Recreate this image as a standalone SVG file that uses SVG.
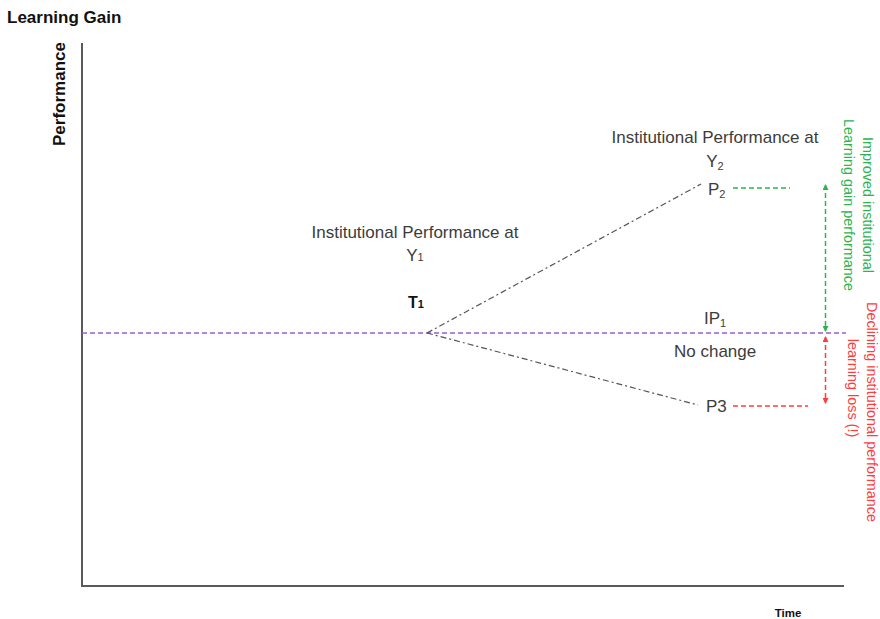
<svg xmlns="http://www.w3.org/2000/svg" width="880" height="619" viewBox="0 0 880 619">
  <defs>
    <style>
      text { font-family: "Liberation Sans", Arial, sans-serif; fill: #3c3c3c; }
      .lbl { font-size: 17px; }
      .sub { font-size: 11px; }
      .bold { font-weight: bold; fill: #111; }
      .axis { stroke: #5a5a5a; stroke-width: 2; fill: none; }
      .trend { stroke: #555; stroke-width: 1.2; stroke-dasharray: 6 3 2 3; fill: none; }
      .base { stroke: #9a5fd0; stroke-width: 1.5; stroke-dasharray: 5 3; fill: none; }
      .gain { stroke: #2fb34f; stroke-width: 1.5; stroke-dasharray: 5 3; fill: none; }
      .loss { stroke: #ff3d3d; stroke-width: 1.5; stroke-dasharray: 5 3; fill: none; }
      .green { fill: #2fb34f; font-size: 14.4px; }
      .red { fill: #ff3d3d; font-size: 14.4px; }
    </style>
    <marker id="arrGreen" viewBox="0 0 6 6" refX="5" refY="3" markerWidth="6" markerHeight="6" orient="auto-start-reverse" markerUnits="userSpaceOnUse">
      <path d="M0,0 L6,3 L0,6 z" fill="#2fb34f"/>
    </marker>
    <marker id="arrRed" viewBox="0 0 6 6" refX="5" refY="3" markerWidth="6" markerHeight="6" orient="auto-start-reverse" markerUnits="userSpaceOnUse">
      <path d="M0,0 L6,3 L0,6 z" fill="#ff3d3d"/>
    </marker>
  </defs>
  <rect width="880" height="619" fill="#fff"/>

  <!-- title and axes -->
  <g id="title">
    <text x="7" y="23" class="bold" font-size="17">Learning Gain</text>
  </g>
  <g id="axes">
    <path class="axis" d="M82,43 V586 H844"/>
    <text class="bold" font-size="17" transform="translate(64.5,94) rotate(-90)" text-anchor="middle">Performance</text>
    <text x="788" y="617" class="bold" font-size="11.5" text-anchor="middle">Time</text>
  </g>

  <!-- connectors -->
  <g id="connectors">
    <line class="base" x1="82" y1="333" x2="846" y2="333"/>
    <line class="trend" x1="427" y1="333" x2="701" y2="184"/>
    <line class="trend" x1="427" y1="333" x2="698" y2="405"/>
    <line class="gain" x1="733" y1="188" x2="790" y2="188"/>
    <line class="loss" x1="733" y1="406" x2="808" y2="406"/>
    <line class="gain" x1="825.5" y1="185" x2="825.5" y2="331" marker-start="url(#arrGreen)" marker-end="url(#arrGreen)"/>
    <line class="loss" x1="825.5" y1="337" x2="825.5" y2="403" marker-start="url(#arrRed)" marker-end="url(#arrRed)"/>
  </g>

  <!-- nodes -->
  <g id="node-y1" class="lbl" text-anchor="middle">
    <text x="415" y="238">Institutional Performance at</text>
    <text x="415" y="261">Y<tspan class="sub">1</tspan></text>
    <text x="416" y="308" class="bold" font-size="16">T<tspan class="sub">1</tspan></text>
  </g>
  <g id="node-y2" class="lbl" text-anchor="middle">
    <text x="715" y="143">Institutional Performance at</text>
    <text x="715" y="167">Y<tspan class="sub" dy="3">2</tspan></text>
  </g>
  <g id="node-p2" class="lbl">
    <text x="708" y="195">P<tspan class="sub" dy="3">2</tspan></text>
  </g>
  <g id="node-ip1" class="lbl">
    <text x="704" y="324">IP<tspan class="sub" dy="3">1</tspan></text>
  </g>
  <g id="node-nochange" class="lbl">
    <text x="674" y="357">No change</text>
  </g>
  <g id="node-p3" class="lbl">
    <text x="706" y="412">P3</text>
  </g>
  <g id="label-gain" text-anchor="middle">
    <text class="green" transform="translate(863,205) rotate(90)">Improved institutional</text>
    <text class="green" transform="translate(843.5,205) rotate(90)">Learning gain performance</text>
  </g>
  <g id="label-loss" text-anchor="middle">
    <text class="red" transform="translate(867,412) rotate(90)">Declining institutional performance</text>
    <text class="red" transform="translate(847.5,388) rotate(90)">learning loss (!)</text>
  </g>
</svg>
